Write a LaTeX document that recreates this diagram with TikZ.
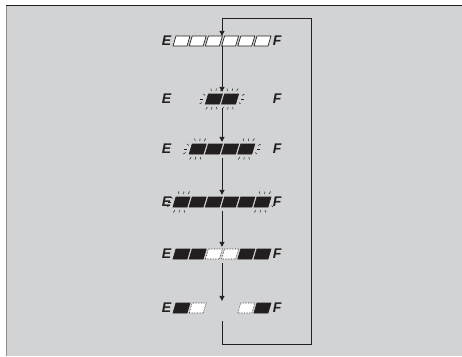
\documentclass[tikz,border=0pt]{standalone}
\usepackage{fontspec}
\setmainfont{Liberation Sans}
\usetikzlibrary{arrows.meta,positioning,calc}
\definecolor{panel}{HTML}{D1D3D4}
\definecolor{ink}{HTML}{231F20}
\definecolor{rim}{HTML}{8C8E90}
\tikzset{
  >={Triangle[width=5pt,length=5pt]},
  letter/.style={font=\fontsize{14}{14}\selectfont\bfseries\itshape,text=ink,inner sep=0pt},
  rowbox/.style={minimum width=98pt,minimum height=10pt,inner sep=0pt},
  segoff/.style={draw=ink,fill=white,line width=0.7pt},
  segon/.style={draw=ink,fill=ink,line width=0.7pt},
  segblink/.style={draw=ink,fill=white,densely dotted,line width=0.6pt},
  spark/.style={draw=ink,line width=0.5pt},
  flow/.style={->,draw=ink,line width=0.9pt},
}
% one display segment: style, row node, index 1..6
\newcommand\segment[3]{%
  \path[#1] ($(#2.center)+({(#3-3.5)*16.2-8.5},5)$) -- ++(14,0) -- ++(3,-10) -- ++(-14,0) -- cycle;}
% blinking marks round a segment: row node, index, outer side (-1 left, 1 right)
\newcommand\glow[3]{%
  \begin{scope}[shift={($(#1.center)+({(#2-3.5)*16.2},0)$)}]
    \foreach \dx in {-4.5,0,4.5} {
      \draw[spark] (\dx+2,-8) -- (1.25*\dx+2.5,-10.5);
      \draw[spark] (\dx-2,8) -- (1.25*\dx-2.5,10.5);
    }
    \draw[spark] (#3*10.5+1.5,-3.5) -- (#3*12.5+2,-5);
    \draw[spark] (#3*11,0) -- (#3*13.5,0);
    \draw[spark] (#3*10.5-1.5,3.5) -- (#3*12.5-2,5);
  \end{scope}}

\begin{document}
\begin{tikzpicture}[x=1pt,y=-1pt]
\useasboundingbox (0,0) rectangle (462,356);

% panel
\fill[panel] (6,5) rectangle (462,356);
\draw[rim,line width=1.6pt] (6.5,5) -- (6.5,356);
\draw[ink,line width=1pt] (6,5) -- (462,5);

% rows of the gauge
\node[rowbox] (r1) at (222,41) {};
\node[rowbox] (r2) at (222,99) {};
\node[rowbox] (r3) at (222,149) {};
\node[rowbox] (r4) at (222,202) {};
\node[rowbox] (r5) at (222,254) {};
\node[rowbox] (r6) at (222,308) {};

\foreach \r in {1,...,6} {
  \node[letter,left=1.5pt of r\r] (e\r) {E};
  \node[letter,right=1.5pt of r\r] (f\r) {F};
}

% row 1: all empty
\foreach \i in {1,...,6} {\segment{segoff}{r1}{\i}}
% row 2: middle two, blinking
\foreach \i in {3,4} {\segment{segon}{r2}{\i}}
\glow{r2}{3}{-1}
\glow{r2}{4}{1}
% row 3: middle four, outer ones blinking
\foreach \i in {2,...,5} {\segment{segon}{r3}{\i}}
\glow{r3}{2}{-1}
\glow{r3}{5}{1}
% row 4: all six, outer ones blinking
\foreach \i in {1,...,6} {\segment{segon}{r4}{\i}}
\glow{r4}{1}{-1}
\glow{r4}{6}{1}
% row 5: middle two fading
\foreach \i in {1,2,5,6} {\segment{segon}{r5}{\i}}
\foreach \i in {3,4} {\segment{segblink}{r5}{\i}}
% row 6: only the outer segments
\foreach \i in {1,6} {\segment{segon}{r6}{\i}}
\foreach \i in {2,5} {\segment{segblink}{r6}{\i}}

% sequence
\draw[flow] (r1.south) -- ([yshift=2pt]r2.north);
\draw[flow] ([yshift=-4pt]r2.south) -- ([yshift=2pt]r3.north);
\draw[flow] ([yshift=-4pt]r3.south) -- ([yshift=2pt]r4.north);
\draw[flow] ([yshift=-4pt]r4.south) -- ([yshift=2pt]r5.north);
\draw[flow] ([yshift=-4pt]r5.south) -- ([yshift=2pt]r6.north);

% return loop
\coordinate (bl) at (222,344);
\coordinate (br) at (311,344);
\coordinate (tr) at (311,18);
\coordinate (tl) at (222,18);
\draw[flow] ([yshift=-8pt]r6.south) -- (bl) -- (br) -- (tr) -- (tl) -- (r1.north);

\end{tikzpicture}
\end{document}
